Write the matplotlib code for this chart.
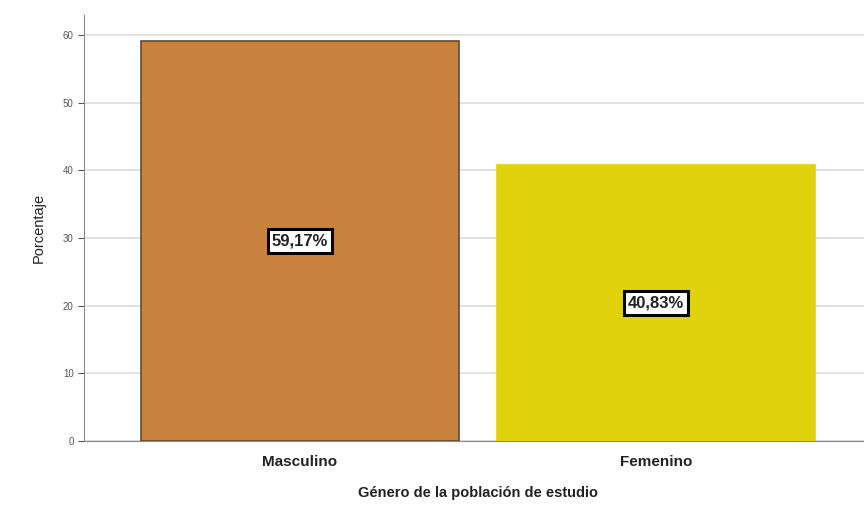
import matplotlib.pyplot as plt

plt.rcParams['font.family'] = ['Liberation Sans', 'DejaVu Sans']

categorias = ['Masculino', 'Femenino']
porcentajes = [59.17, 40.83]
etiquetas = ['59,17%', '40,83%']
colores = ['#C9823D', '#E0D20C']
bordes = ['#5E4A36', '#E0D20C']

fig = plt.figure(figsize=(8.64, 5.15), dpi=100)
ax = fig.add_axes([0.0972, 0.1437, 0.912, 0.8273])

x = range(len(categorias))
bars = ax.bar(x, porcentajes, width=0.895, color=colores, edgecolor=bordes, linewidth=1.2, zorder=3)

# etiqueta con el porcentaje en el centro de cada barra
for bar, txt in zip(bars, etiquetas):
    ax.text(bar.get_x() + bar.get_width() / 2, bar.get_height() / 2, txt,
            ha='center', va='center', fontsize=12, fontweight='bold', color='#222222', zorder=5,
            bbox=dict(boxstyle='square,pad=0.25', facecolor='white', edgecolor='black', linewidth=2.2))

ax.set_xlim(-0.607, 1.607)
ax.set_ylim(0, 63)
ax.set_yticks(range(0, 61, 10))
ax.yaxis.grid(True, color='#DCDCDC', linewidth=1.2, zorder=0)
ax.set_axisbelow(True)

ax.set_xticks(list(x))
ax.set_xticklabels(categorias, fontsize=11, fontweight='bold', color='#222222')
ax.tick_params(axis='x', length=0, pad=10)
ax.tick_params(axis='y', labelsize=7, colors='#555555', length=4, width=0.8)

ax.set_ylabel('Porcentaje', fontsize=10.5, color='#222222', labelpad=12)
ax.set_xlabel('Género de la población de estudio', fontsize=10.5, fontweight='bold', color='#222222', labelpad=12)

ax.spines['top'].set_visible(False)
ax.spines['right'].set_visible(False)
ax.spines['left'].set_color('#8A8A8A')
ax.spines['bottom'].set_color('#8A8A8A')

plt.savefig('out.png', dpi=100)
plt.close()
